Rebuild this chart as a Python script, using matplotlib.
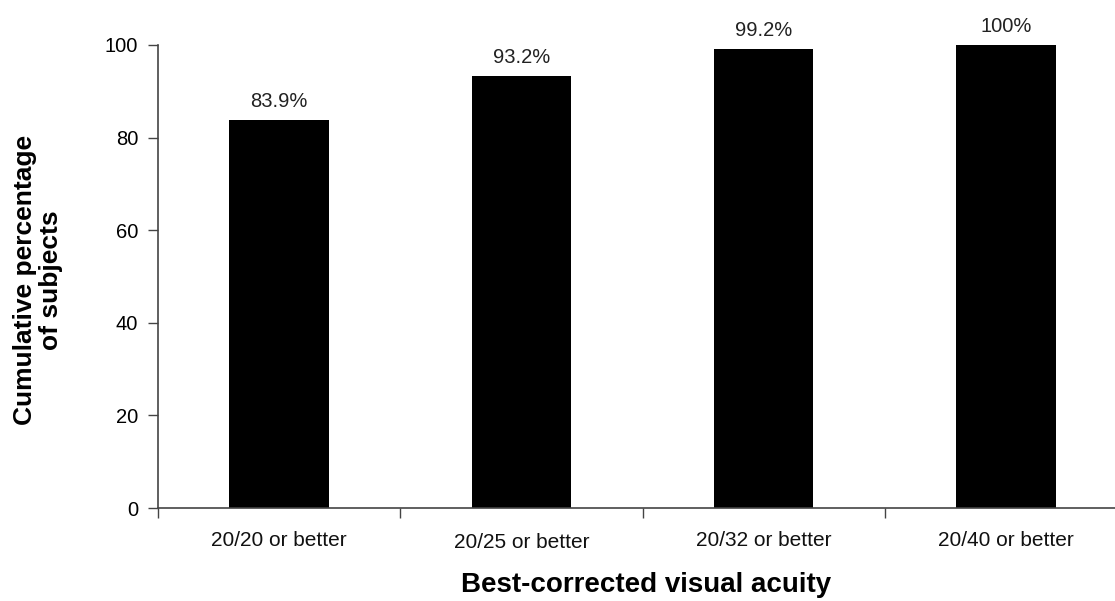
import matplotlib
matplotlib.use('Agg')
import matplotlib.pyplot as plt
import numpy as np

plt.rcParams['font.family'] = ['Liberation Sans', 'DejaVu Sans']

categories = ['20/20 or better', '20/25 or better', '20/32 or better', '20/40 or better']
values = [83.9, 93.2, 99.2, 100.0]
value_labels = ['83.9%', '93.2%', '99.2%', '100%']
y_ticks = [0, 20, 40, 60, 80, 100]
# category labels sit at slightly uneven heights in the original (points below axis)
label_drop = [-27.0, -29.0, -27.0, -27.7]

fig = plt.figure(figsize=(11.15, 6.01), dpi=100)
ax = fig.add_axes([158 / 1115, 1 - 508 / 601, 969 / 1115, 463 / 601])

x = np.arange(len(categories))
ax.bar(x, values, width=0.41, color='black')

for xi, v, lab in zip(x, values, value_labels):
    ax.annotate(lab, xy=(xi, v), xytext=(0, 6.5), textcoords='offset points',
                ha='center', va='bottom', fontsize=14.5, color='#222222')

ax.set_xlim(-0.5, len(categories) - 0.5)
ax.set_ylim(0, 100)
ax.set_yticks(y_ticks)
ax.tick_params(axis='y', labelsize=14.5, length=7.2, width=1, color='#444444', pad=7)

# ticks at the category boundaries, labels placed in between
ax.set_xticks(np.arange(len(categories) + 1) - 0.5)
ax.set_xticklabels([])
ax.tick_params(axis='x', length=7.2, width=1, color='#444444')
for xi, cat, dy in zip(x, categories, label_drop):
    ax.annotate(cat, xy=(xi, 0), xycoords=('data', 'axes fraction'),
                xytext=(0, dy), textcoords='offset points',
                ha='center', va='baseline', fontsize=15, color='#111111',
                annotation_clip=False)

for s in ['top', 'right']:
    ax.spines[s].set_visible(False)
for s in ['left', 'bottom']:
    ax.spines[s].set_color('#444444')
    ax.spines[s].set_linewidth(1.2)

fig.text(646 / 1115, 1 - 592 / 601, 'Best-corrected visual acuity',
         ha='center', va='baseline', fontsize=20, fontweight='bold')
fig.text(38 / 1115, 1 - 280 / 601, 'Cumulative percentage\nof subjects',
         ha='center', va='center', rotation=90, fontsize=19,
         fontweight='bold', linespacing=1.1)

fig.savefig('out.png', dpi=100, facecolor='white')
